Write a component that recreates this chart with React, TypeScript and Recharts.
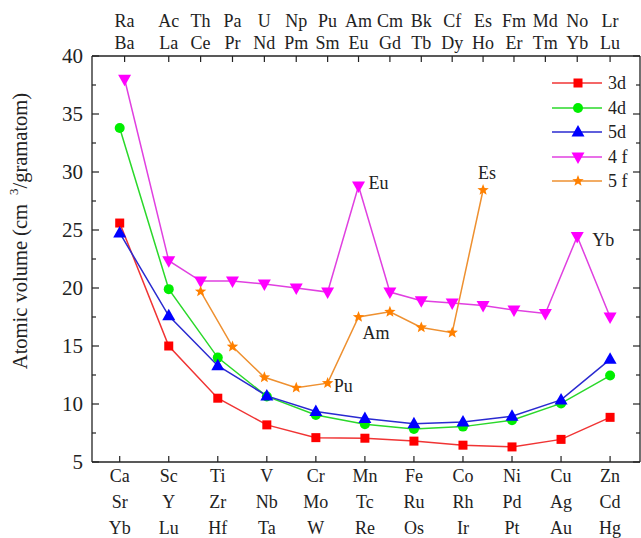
import { Legend, Line, LineChart, XAxis, YAxis } from "recharts";

// d-block columns (bottom axis) and f-block columns (top axis)
const dPos = [0, 1, 2, 3, 4, 5, 6, 7, 8, 9, 10];
const row3d = ["Ca", "Sc", "Ti", "V", "Cr", "Mn", "Fe", "Co", "Ni", "Cu", "Zn"];
const row4d = ["Sr", "Y", "Zr", "Nb", "Mo", "Tc", "Ru", "Rh", "Pd", "Ag", "Cd"];
const row5d = ["Yb", "Lu", "Hf", "Ta", "W", "Re", "Os", "Ir", "Pt", "Au", "Hg"];

const fPos = [0.1, 1, 1.65, 2.3, 2.95, 3.6, 4.24, 4.87, 5.51, 6.15, 6.78, 7.41, 8.04, 8.68, 9.33, 10];
const row5f = ["Ra", "Ac", "Th", "Pa", "U", "Np", "Pu", "Am", "Cm", "Bk", "Cf", "Es", "Fm", "Md", "No", "Lr"];
const row4f = ["Ba", "La", "Ce", "Pr", "Nd", "Pm", "Sm", "Eu", "Gd", "Tb", "Dy", "Ho", "Er", "Tm", "Yb", "Lu"];

const yTicks = [5, 7.5, 10, 12.5, 15, 17.5, 20, 22.5, 25, 27.5, 30, 32.5, 35, 37.5, 40];

// atomic volumes, cm3/gramatom
const vol3d = [25.6, 15.0, 10.5, 8.2, 7.1, 7.05, 6.8, 6.45, 6.3, 6.95, 8.85];
const vol4d = [33.8, 19.9, 14.0, 10.65, 9.05, 8.25, 7.85, 8.05, 8.6, 10.05, 12.45];
const vol5d = [24.75, 17.6, 13.3, 10.7, 9.35, 8.75, 8.3, 8.45, 8.95, 10.35, 13.85];
const vol4f = [38.0, 22.35, 20.6, 20.6, 20.35, 20.0, 19.65, 28.8, 19.65, 18.9, 18.7, 18.5, 18.1, 17.8, 24.45, 17.5];
// 5f starts at Th (third f column)
const vol5f = [19.7, 14.95, 12.3, 11.4, 11.8, 17.5, 17.95, 16.6, 16.15, 28.45];

const notes4f = [
  { index: 7, text: "Eu", dx: 10, dy: 3, anchor: "start" },
  { index: 14, text: "Yb", dx: 15, dy: 10, anchor: "start" },
];
const notes5f = [
  { index: 4, text: "Pu", dx: 6, dy: 9, anchor: "start" },
  { index: 5, text: "Am", dx: 4, dy: 22, anchor: "start" },
  { index: 9, text: "Es", dx: 4, dy: -11, anchor: "middle" },
];

const FONT = "Liberation Serif, Times New Roman, serif";
const INK = "#222";

const series = [
  { key: "3d", name: "3d", line: "#f03434", fill: "#ff0000", shape: "square", data: dPos.map((x, i) => ({ x, v: vol3d[i] })) },
  { key: "4d", name: "4d", line: "#2ad82a", fill: "#00ee00", shape: "circle", data: dPos.map((x, i) => ({ x, v: vol4d[i] })) },
  { key: "5d", name: "5d", line: "#2a2ad0", fill: "#0000ff", shape: "up", data: dPos.map((x, i) => ({ x, v: vol5d[i] })) },
  { key: "4f", name: "4 f", line: "#e040e0", fill: "#ff00ff", shape: "down", data: fPos.map((x, i) => ({ x, v: vol4f[i] })) },
  { key: "5f", name: "5 f", line: "#ee9030", fill: "#ff8000", shape: "star", data: vol5f.map((v, i) => ({ x: fPos[i + 2], v })) },
];

function starPoints(cx: number, cy: number, ro: number, ri: number) {
  const pts: string[] = [];
  for (let k = 0; k < 10; k++) {
    const r = k % 2 ? ri : ro;
    const a = -Math.PI / 2 + (k * Math.PI) / 5;
    pts.push(`${cx + r * Math.cos(a)},${cy + r * Math.sin(a)}`);
  }
  return pts.join(" ");
}

function Marker({ cx, cy, shape, fill }: { cx: number; cy: number; shape: string; fill: string }) {
  if (cx == null || cy == null) return null;
  if (shape === "square") return <rect x={cx - 4.5} y={cy - 4.5} width={9} height={9} fill={fill} />;
  if (shape === "circle") return <circle cx={cx} cy={cy} r={5} fill={fill} />;
  if (shape === "up") return <polygon points={`${cx},${cy - 7} ${cx + 6.5},${cy + 4.5} ${cx - 6.5},${cy + 4.5}`} fill={fill} />;
  if (shape === "down") return <polygon points={`${cx},${cy + 7} ${cx + 6.5},${cy - 4.5} ${cx - 6.5},${cy - 4.5}`} fill={fill} />;
  return <polygon points={starPoints(cx, cy, 6, 2.6)} fill={fill} />;
}

function BottomTick({ x, y, index }: any) {
  return (
    <g>
      <line x1={x} x2={x} y1={y} y2={y - 6} stroke={INK} strokeWidth={1.2} />
      <text x={x} y={y} textAnchor="middle" style={{ fontFamily: FONT }} fontSize={18} fill={INK}>
        <tspan x={x} dy={20}>{row3d[index]}</tspan>
        <tspan x={x} dy={26}>{row4d[index]}</tspan>
        <tspan x={x} dy={26}>{row5d[index]}</tspan>
      </text>
    </g>
  );
}

function TopTick({ x, y, index }: any) {
  return (
    <g style={{ fontFamily: FONT }}>
      <line x1={x} x2={x} y1={y} y2={y + 6} stroke={INK} strokeWidth={1.2} />
      <text x={x} y={y - 29} textAnchor="middle" fontSize={18} fill={INK}>
        {row5f[index]}
      </text>
      <text x={x} y={y - 7} textAnchor="middle" fontSize={18} fill={INK}>
        {row4f[index]}
      </text>
    </g>
  );
}

function LeftTick({ x, y, payload }: any) {
  const major = payload.value % 5 === 0;
  return (
    <g>
      <line x1={x} x2={x + (major ? 7 : 4)} y1={y} y2={y} stroke={INK} strokeWidth={1.2} />
      {major && (
        <text x={x - 9} y={y} dy="0.35em" textAnchor="end" style={{ fontFamily: FONT }} fontSize={21} fill={INK}>
          {payload.value}
        </text>
      )}
    </g>
  );
}

function RightTick({ x, y, payload }: any) {
  const major = payload.value % 5 === 0;
  return <line x1={x} x2={x - (major ? 7 : 4)} y1={y} y2={y} stroke={INK} strokeWidth={1.2} />;
}

function noteLabel(notes: typeof notes4f) {
  return (props: any) => {
    const n = notes.find((m) => m.index === props.index);
    if (!n) return null;
    return (
      <text
        key={`n-${props.index}`}
        x={props.x + n.dx}
        y={props.y + n.dy}
        textAnchor={n.anchor}
        style={{ fontFamily: FONT }}
        fontSize={18}
        fill={INK}
      >
        {n.text}
      </text>
    );
  };
}

function LegendBox() {
  return (
    <div style={{ fontFamily: FONT, fontSize: 18, color: INK }}>
      {series.map((s) => (
        <div key={s.key} style={{ display: "flex", alignItems: "center", height: 24.5 }}>
          <svg width={52} height={20}>
            <line x1={0} x2={50} y1={10} y2={10} stroke={s.line} strokeWidth={1.5} />
            <Marker cx={26} cy={10} shape={s.shape} fill={s.fill} />
          </svg>
          <span style={{ marginLeft: 4, lineHeight: "18px" }}>{s.name}</span>
        </div>
      ))}
    </div>
  );
}

const domainX: [number, number] = [-0.565, 10.61];

export default function App() {
  return (
    <div style={{ position: "absolute", left: 0, top: 0, background: "#fff", fontFamily: FONT }}>
      <LineChart width={641} height={538} margin={{ top: 0, right: 0, bottom: 0, left: 0 }}>
        <XAxis
          xAxisId="b"
          orientation="bottom"
          type="number"
          dataKey="x"
          domain={domainX}
          ticks={dPos}
          interval={0}
          allowDataOverflow
          height={76}
          axisLine={{ stroke: INK, strokeWidth: 1.3 }}
          tickLine={false}
          tickSize={0}
          tickMargin={0}
          tick={<BottomTick />}
        />
        <XAxis
          xAxisId="t"
          orientation="top"
          type="number"
          dataKey="x"
          domain={domainX}
          ticks={fPos}
          interval={0}
          allowDataOverflow
          height={56}
          axisLine={{ stroke: INK, strokeWidth: 1.3 }}
          tickLine={false}
          tickSize={0}
          tickMargin={0}
          tick={<TopTick />}
        />
        <YAxis
          yAxisId="l"
          type="number"
          domain={[5, 40]}
          ticks={yTicks}
          interval={0}
          allowDataOverflow
          width={92}
          axisLine={{ stroke: INK, strokeWidth: 1.3 }}
          tickLine={false}
          tickSize={0}
          tickMargin={0}
          tick={<LeftTick />}
          label={{
            content: () => (
              <text
                transform="translate(27,231) rotate(-90)"
                textAnchor="middle"
                style={{ fontFamily: FONT }}
                fontSize={20.5}
                fill={INK}
              >
                Atomic volume (cm
                <tspan dx={9} dy={-9} fontSize={13}>3</tspan>
                <tspan dy={9}>/gramatom)</tspan>
              </text>
            ),
          }}
        />
        <YAxis
          yAxisId="r"
          orientation="right"
          type="number"
          domain={[5, 40]}
          ticks={yTicks}
          interval={0}
          allowDataOverflow
          width={1}
          axisLine={{ stroke: INK, strokeWidth: 1.3 }}
          tickLine={false}
          tickSize={0}
          tickMargin={0}
          tick={<RightTick />}
        />
        <Legend
          layout="vertical"
          align="center"
          verticalAlign="middle"
          content={() => <LegendBox />}
          wrapperStyle={{ left: 552, top: 71, width: 90 }}
        />
        {series.map((s) => (
          <Line
            key={s.key}
            xAxisId="b"
            yAxisId="l"
            data={s.data}
            dataKey="v"
            name={s.name}
            stroke={s.line}
            strokeWidth={1.5}
            isAnimationActive={false}
            dot={(p: any) => <Marker key={`${s.key}-${p.index}`} cx={p.cx} cy={p.cy} shape={s.shape} fill={s.fill} />}
            activeDot={false}
            label={s.key === "4f" ? noteLabel(notes4f) : s.key === "5f" ? noteLabel(notes5f) : false}
          />
        ))}
      </LineChart>
    </div>
  );
}
